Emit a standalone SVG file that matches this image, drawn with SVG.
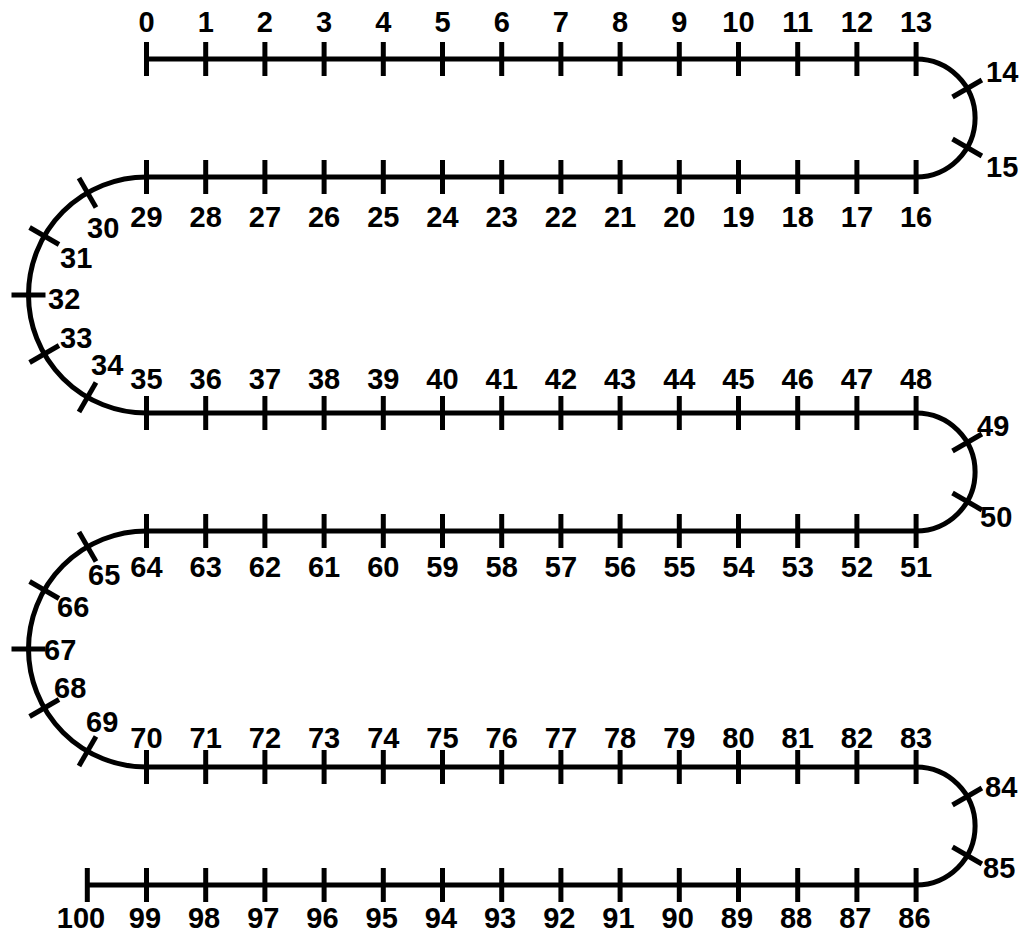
<svg xmlns="http://www.w3.org/2000/svg" width="1024" height="938" viewBox="0 0 1024 938">
<style>
.trk{fill:none;stroke:#000;stroke-width:5}
line{stroke:#000;stroke-width:5}
text{font-family:"Liberation Sans",Arial,sans-serif;font-weight:bold;font-size:29px;fill:#000}
.m{text-anchor:middle}
</style>
<rect width="1024" height="938" fill="#fff"/>
<g id="connectors">
<path id="track" class="trk" d="M146.5,59 H916.1 A59,59 0 0 1 916.1,177 H146.5 A118,118 0 0 0 146.5,413 H916.1 A59,59 0 0 1 916.1,531 H146.5 A118,118 0 0 0 146.5,767 H916.1 A59,59 0 0 1 916.1,885 H87.3"/>
</g>
<g id="row1">
<g id="n0"><line x1="146.5" y1="42" x2="146.5" y2="76"/><text class="m" x="146.5" y="32">0</text></g>
<g id="n1"><line x1="205.7" y1="42" x2="205.7" y2="76"/><text class="m" x="205.7" y="32">1</text></g>
<g id="n2"><line x1="264.9" y1="42" x2="264.9" y2="76"/><text class="m" x="264.9" y="32">2</text></g>
<g id="n3"><line x1="324.1" y1="42" x2="324.1" y2="76"/><text class="m" x="324.1" y="32">3</text></g>
<g id="n4"><line x1="383.3" y1="42" x2="383.3" y2="76"/><text class="m" x="383.3" y="32">4</text></g>
<g id="n5"><line x1="442.5" y1="42" x2="442.5" y2="76"/><text class="m" x="442.5" y="32">5</text></g>
<g id="n6"><line x1="501.7" y1="42" x2="501.7" y2="76"/><text class="m" x="501.7" y="32">6</text></g>
<g id="n7"><line x1="560.9" y1="42" x2="560.9" y2="76"/><text class="m" x="560.9" y="32">7</text></g>
<g id="n8"><line x1="620.1" y1="42" x2="620.1" y2="76"/><text class="m" x="620.1" y="32">8</text></g>
<g id="n9"><line x1="679.3" y1="42" x2="679.3" y2="76"/><text class="m" x="679.3" y="32">9</text></g>
<g id="n10"><line x1="738.5" y1="42" x2="738.5" y2="76"/><text class="m" x="738.5" y="32">10</text></g>
<g id="n11"><line x1="797.7" y1="42" x2="797.7" y2="76"/><text class="m" x="797.7" y="32">11</text></g>
<g id="n12"><line x1="856.9" y1="42" x2="856.9" y2="76"/><text class="m" x="856.9" y="32">12</text></g>
<g id="n13"><line x1="916.1" y1="42" x2="916.1" y2="76"/><text class="m" x="916.1" y="32">13</text></g>
</g>
<g id="arc1">
<g id="n14"><line x1="981.9" y1="80" x2="952.5" y2="97"/><text x="986" y="82">14</text></g>
<g id="n15"><line x1="981.9" y1="156" x2="952.5" y2="139"/><text x="986" y="177">15</text></g>
</g>
<g id="row2">
<g id="n16"><line x1="916.1" y1="160" x2="916.1" y2="194"/><text class="m" x="916.1" y="227">16</text></g>
<g id="n17"><line x1="856.9" y1="160" x2="856.9" y2="194"/><text class="m" x="856.9" y="227">17</text></g>
<g id="n18"><line x1="797.7" y1="160" x2="797.7" y2="194"/><text class="m" x="797.7" y="227">18</text></g>
<g id="n19"><line x1="738.5" y1="160" x2="738.5" y2="194"/><text class="m" x="738.5" y="227">19</text></g>
<g id="n20"><line x1="679.3" y1="160" x2="679.3" y2="194"/><text class="m" x="679.3" y="227">20</text></g>
<g id="n21"><line x1="620.1" y1="160" x2="620.1" y2="194"/><text class="m" x="620.1" y="227">21</text></g>
<g id="n22"><line x1="560.9" y1="160" x2="560.9" y2="194"/><text class="m" x="560.9" y="227">22</text></g>
<g id="n23"><line x1="501.7" y1="160" x2="501.7" y2="194"/><text class="m" x="501.7" y="227">23</text></g>
<g id="n24"><line x1="442.5" y1="160" x2="442.5" y2="194"/><text class="m" x="442.5" y="227">24</text></g>
<g id="n25"><line x1="383.3" y1="160" x2="383.3" y2="194"/><text class="m" x="383.3" y="227">25</text></g>
<g id="n26"><line x1="324.1" y1="160" x2="324.1" y2="194"/><text class="m" x="324.1" y="227">26</text></g>
<g id="n27"><line x1="264.9" y1="160" x2="264.9" y2="194"/><text class="m" x="264.9" y="227">27</text></g>
<g id="n28"><line x1="205.7" y1="160" x2="205.7" y2="194"/><text class="m" x="205.7" y="227">28</text></g>
<g id="n29"><line x1="146.5" y1="160" x2="146.5" y2="194"/><text class="m" x="146.5" y="227">29</text></g>
</g>
<g id="arc2">
<g id="n30"><line x1="79" y1="178.1" x2="96" y2="207.5"/><text x="87" y="238">30</text></g>
<g id="n31"><line x1="29.6" y1="227.5" x2="59" y2="244.5"/><text x="60" y="268">31</text></g>
<g id="n32"><line x1="11.5" y1="295" x2="45.5" y2="295"/><text x="48" y="309">32</text></g>
<g id="n33"><line x1="29.6" y1="362.5" x2="59" y2="345.5"/><text x="60" y="348">33</text></g>
<g id="n34"><line x1="79" y1="411.9" x2="96" y2="382.5"/><text x="91" y="375">34</text></g>
</g>
<g id="row3">
<g id="n35"><line x1="146.5" y1="396" x2="146.5" y2="430"/><text class="m" x="146.5" y="389">35</text></g>
<g id="n36"><line x1="205.7" y1="396" x2="205.7" y2="430"/><text class="m" x="205.7" y="389">36</text></g>
<g id="n37"><line x1="264.9" y1="396" x2="264.9" y2="430"/><text class="m" x="264.9" y="389">37</text></g>
<g id="n38"><line x1="324.1" y1="396" x2="324.1" y2="430"/><text class="m" x="324.1" y="389">38</text></g>
<g id="n39"><line x1="383.3" y1="396" x2="383.3" y2="430"/><text class="m" x="383.3" y="389">39</text></g>
<g id="n40"><line x1="442.5" y1="396" x2="442.5" y2="430"/><text class="m" x="442.5" y="389">40</text></g>
<g id="n41"><line x1="501.7" y1="396" x2="501.7" y2="430"/><text class="m" x="501.7" y="389">41</text></g>
<g id="n42"><line x1="560.9" y1="396" x2="560.9" y2="430"/><text class="m" x="560.9" y="389">42</text></g>
<g id="n43"><line x1="620.1" y1="396" x2="620.1" y2="430"/><text class="m" x="620.1" y="389">43</text></g>
<g id="n44"><line x1="679.3" y1="396" x2="679.3" y2="430"/><text class="m" x="679.3" y="389">44</text></g>
<g id="n45"><line x1="738.5" y1="396" x2="738.5" y2="430"/><text class="m" x="738.5" y="389">45</text></g>
<g id="n46"><line x1="797.7" y1="396" x2="797.7" y2="430"/><text class="m" x="797.7" y="389">46</text></g>
<g id="n47"><line x1="856.9" y1="396" x2="856.9" y2="430"/><text class="m" x="856.9" y="389">47</text></g>
<g id="n48"><line x1="916.1" y1="396" x2="916.1" y2="430"/><text class="m" x="916.1" y="389">48</text></g>
</g>
<g id="arc3">
<g id="n49"><line x1="981.9" y1="434" x2="952.5" y2="451"/><text x="977" y="436">49</text></g>
<g id="n50"><line x1="981.9" y1="510" x2="952.5" y2="493"/><text x="980" y="527">50</text></g>
</g>
<g id="row4">
<g id="n51"><line x1="916.1" y1="514" x2="916.1" y2="548"/><text class="m" x="916.1" y="577">51</text></g>
<g id="n52"><line x1="856.9" y1="514" x2="856.9" y2="548"/><text class="m" x="856.9" y="577">52</text></g>
<g id="n53"><line x1="797.7" y1="514" x2="797.7" y2="548"/><text class="m" x="797.7" y="577">53</text></g>
<g id="n54"><line x1="738.5" y1="514" x2="738.5" y2="548"/><text class="m" x="738.5" y="577">54</text></g>
<g id="n55"><line x1="679.3" y1="514" x2="679.3" y2="548"/><text class="m" x="679.3" y="577">55</text></g>
<g id="n56"><line x1="620.1" y1="514" x2="620.1" y2="548"/><text class="m" x="620.1" y="577">56</text></g>
<g id="n57"><line x1="560.9" y1="514" x2="560.9" y2="548"/><text class="m" x="560.9" y="577">57</text></g>
<g id="n58"><line x1="501.7" y1="514" x2="501.7" y2="548"/><text class="m" x="501.7" y="577">58</text></g>
<g id="n59"><line x1="442.5" y1="514" x2="442.5" y2="548"/><text class="m" x="442.5" y="577">59</text></g>
<g id="n60"><line x1="383.3" y1="514" x2="383.3" y2="548"/><text class="m" x="383.3" y="577">60</text></g>
<g id="n61"><line x1="324.1" y1="514" x2="324.1" y2="548"/><text class="m" x="324.1" y="577">61</text></g>
<g id="n62"><line x1="264.9" y1="514" x2="264.9" y2="548"/><text class="m" x="264.9" y="577">62</text></g>
<g id="n63"><line x1="205.7" y1="514" x2="205.7" y2="548"/><text class="m" x="205.7" y="577">63</text></g>
<g id="n64"><line x1="146.5" y1="514" x2="146.5" y2="548"/><text class="m" x="146.5" y="577">64</text></g>
</g>
<g id="arc4">
<g id="n65"><line x1="79" y1="532.1" x2="96" y2="561.5"/><text x="88" y="585">65</text></g>
<g id="n66"><line x1="29.6" y1="581.5" x2="59" y2="598.5"/><text x="57" y="617">66</text></g>
<g id="n67"><line x1="11.5" y1="649" x2="45.5" y2="649"/><text x="44" y="660">67</text></g>
<g id="n68"><line x1="29.6" y1="716.5" x2="59" y2="699.5"/><text x="54" y="698">68</text></g>
<g id="n69"><line x1="79" y1="765.9" x2="96" y2="736.5"/><text x="86" y="732">69</text></g>
</g>
<g id="row5">
<g id="n70"><line x1="146.5" y1="750" x2="146.5" y2="784"/><text class="m" x="146.5" y="748">70</text></g>
<g id="n71"><line x1="205.7" y1="750" x2="205.7" y2="784"/><text class="m" x="205.7" y="748">71</text></g>
<g id="n72"><line x1="264.9" y1="750" x2="264.9" y2="784"/><text class="m" x="264.9" y="748">72</text></g>
<g id="n73"><line x1="324.1" y1="750" x2="324.1" y2="784"/><text class="m" x="324.1" y="748">73</text></g>
<g id="n74"><line x1="383.3" y1="750" x2="383.3" y2="784"/><text class="m" x="383.3" y="748">74</text></g>
<g id="n75"><line x1="442.5" y1="750" x2="442.5" y2="784"/><text class="m" x="442.5" y="748">75</text></g>
<g id="n76"><line x1="501.7" y1="750" x2="501.7" y2="784"/><text class="m" x="501.7" y="748">76</text></g>
<g id="n77"><line x1="560.9" y1="750" x2="560.9" y2="784"/><text class="m" x="560.9" y="748">77</text></g>
<g id="n78"><line x1="620.1" y1="750" x2="620.1" y2="784"/><text class="m" x="620.1" y="748">78</text></g>
<g id="n79"><line x1="679.3" y1="750" x2="679.3" y2="784"/><text class="m" x="679.3" y="748">79</text></g>
<g id="n80"><line x1="738.5" y1="750" x2="738.5" y2="784"/><text class="m" x="738.5" y="748">80</text></g>
<g id="n81"><line x1="797.7" y1="750" x2="797.7" y2="784"/><text class="m" x="797.7" y="748">81</text></g>
<g id="n82"><line x1="856.9" y1="750" x2="856.9" y2="784"/><text class="m" x="856.9" y="748">82</text></g>
<g id="n83"><line x1="916.1" y1="750" x2="916.1" y2="784"/><text class="m" x="916.1" y="748">83</text></g>
</g>
<g id="arc5">
<g id="n84"><line x1="981.9" y1="788" x2="952.5" y2="805"/><text x="985" y="797">84</text></g>
<g id="n85"><line x1="981.9" y1="864" x2="952.5" y2="847"/><text x="983" y="878">85</text></g>
</g>
<g id="row6">
<g id="n86"><line x1="916.1" y1="868" x2="916.1" y2="902"/><text class="m" x="914.5" y="928">86</text></g>
<g id="n87"><line x1="856.9" y1="868" x2="856.9" y2="902"/><text class="m" x="855.3" y="928">87</text></g>
<g id="n88"><line x1="797.7" y1="868" x2="797.7" y2="902"/><text class="m" x="796.1" y="928">88</text></g>
<g id="n89"><line x1="738.5" y1="868" x2="738.5" y2="902"/><text class="m" x="736.9" y="928">89</text></g>
<g id="n90"><line x1="679.3" y1="868" x2="679.3" y2="902"/><text class="m" x="677.7" y="928">90</text></g>
<g id="n91"><line x1="620.1" y1="868" x2="620.1" y2="902"/><text class="m" x="618.5" y="928">91</text></g>
<g id="n92"><line x1="560.9" y1="868" x2="560.9" y2="902"/><text class="m" x="559.3" y="928">92</text></g>
<g id="n93"><line x1="501.7" y1="868" x2="501.7" y2="902"/><text class="m" x="500.1" y="928">93</text></g>
<g id="n94"><line x1="442.5" y1="868" x2="442.5" y2="902"/><text class="m" x="440.9" y="928">94</text></g>
<g id="n95"><line x1="383.3" y1="868" x2="383.3" y2="902"/><text class="m" x="381.7" y="928">95</text></g>
<g id="n96"><line x1="324.1" y1="868" x2="324.1" y2="902"/><text class="m" x="322.5" y="928">96</text></g>
<g id="n97"><line x1="264.9" y1="868" x2="264.9" y2="902"/><text class="m" x="263.3" y="928">97</text></g>
<g id="n98"><line x1="205.7" y1="868" x2="205.7" y2="902"/><text class="m" x="204.1" y="928">98</text></g>
<g id="n99"><line x1="146.5" y1="868" x2="146.5" y2="902"/><text class="m" x="144.9" y="928">99</text></g>
<g id="n100"><line x1="87.3" y1="868" x2="87.3" y2="902"/><text class="m" x="81" y="928">100</text></g>
</g>
</svg>
